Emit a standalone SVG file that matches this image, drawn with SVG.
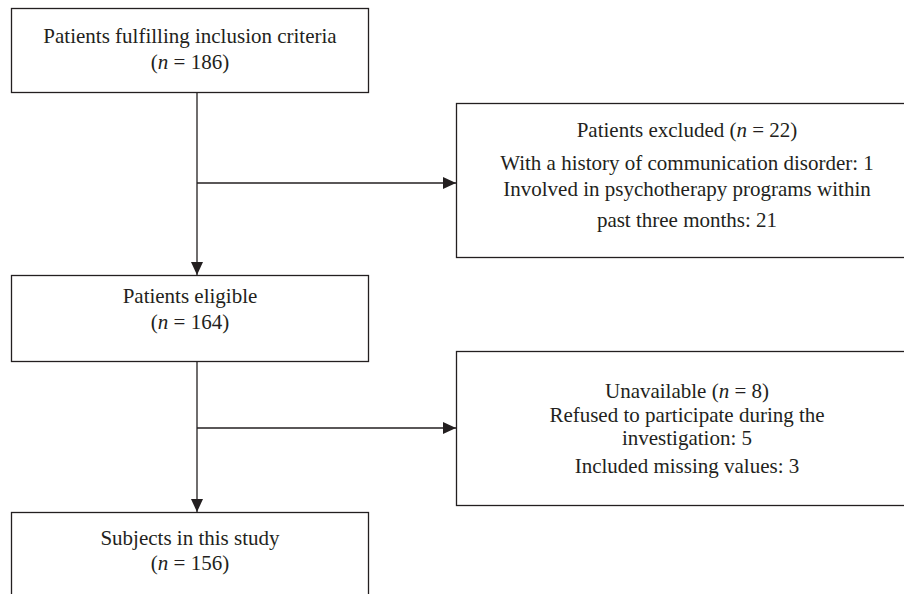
<svg xmlns="http://www.w3.org/2000/svg" width="904" height="594" viewBox="0 0 904 594">
<style>
.box{fill:#fff;stroke:#231f20;stroke-width:1.3}
.t{font-family:"Liberation Serif","Times New Roman",serif;font-size:21px;fill:#231f20;text-anchor:middle}
.c{stroke:#231f20;stroke-width:1.3;fill:none}
</style>
<defs>
<marker id="ah" markerWidth="13" markerHeight="12" refX="13" refY="6" orient="auto" markerUnits="userSpaceOnUse">
<path d="M0,0 L13,6 L0,12 Z" fill="#231f20"/>
</marker>
</defs>
<rect width="904" height="594" fill="#fff"/>
<g id="connectors">
<line class="c" x1="197" y1="92" x2="197" y2="275" marker-end="url(#ah)"/>
<line class="c" x1="197" y1="183" x2="456" y2="183" marker-end="url(#ah)"/>
<line class="c" x1="197" y1="361" x2="197" y2="512" marker-end="url(#ah)"/>
<line class="c" x1="197" y1="428" x2="456" y2="428" marker-end="url(#ah)"/>
</g>
<g id="n1">
<rect class="box" x="11.5" y="8.5" width="357" height="84"/>
<text class="t" x="190" y="43">Patients fulfilling inclusion criteria</text>
<text class="t" x="190" y="69">(<tspan font-style="italic">n</tspan> = 186)</text>
</g>
<g id="n2">
<rect class="box" x="456.5" y="103.5" width="462" height="154"/>
<text class="t" x="687" y="137">Patients excluded (<tspan font-style="italic">n</tspan> = 22)</text>
<text class="t" x="687" y="170">With a history of communication disorder: 1</text>
<text class="t" x="687" y="196">Involved in psychotherapy programs within</text>
<text class="t" x="687" y="227">past three months: 21</text>
</g>
<g id="n3">
<rect class="box" x="11.5" y="275.5" width="357" height="86"/>
<text class="t" x="190" y="303">Patients eligible</text>
<text class="t" x="190" y="329">(<tspan font-style="italic">n</tspan> = 164)</text>
</g>
<g id="n4">
<rect class="box" x="456.5" y="351.5" width="462" height="154"/>
<text class="t" x="687" y="398">Unavailable (<tspan font-style="italic">n</tspan> = 8)</text>
<text class="t" x="687" y="422">Refused to participate during the</text>
<text class="t" x="687" y="445">investigation: 5</text>
<text class="t" x="687" y="473">Included missing values: 3</text>
</g>
<g id="n5">
<rect class="box" x="11.5" y="512.5" width="357" height="100"/>
<text class="t" x="190" y="545">Subjects in this study</text>
<text class="t" x="190" y="570">(<tspan font-style="italic">n</tspan> = 156)</text>
</g>
</svg>
